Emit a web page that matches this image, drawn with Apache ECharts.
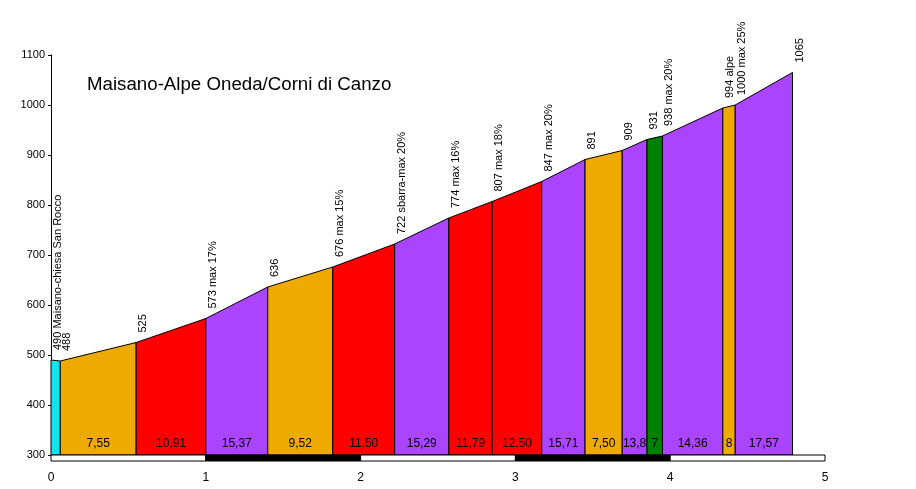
<!DOCTYPE html>
<html>
<head>
<meta charset="utf-8">
<script src="https://cdn.jsdelivr.net/npm/echarts@6/dist/echarts.min.js"></script>
<style>
  html, body { margin: 0; padding: 0; background: #fff; }
  #chart { width: 916px; height: 489px; }
</style>
</head>
<body>
<div id="chart"></div>
<script>
// profile points: distance (km) and altitude (m)
const km = [0, 0.06, 0.55, 1.0, 1.40, 1.82, 2.22, 2.57, 2.85, 3.17, 3.45, 3.69, 3.85, 3.95, 4.34, 4.42, 4.79];
const quota = [490, 488, 525, 573, 636, 676, 722, 774, 807, 847, 891, 909, 931, 938, 994, 1000, 1065];
const pointLabels = [
  '490 Maisano-chiesa San Rocco', '488', '525', '573 max 17%', '636', '676 max 15%',
  '722 sbarra-max 20%', '774 max 16%', '807 max 18%', '847 max 20%', '891', '909',
  '931', '938 max 20%', '994 alpe', '1000 max 25%', '1065'
];
// gradient (%) of each segment between two points
const pendenze = ['', '7,55', '10,91', '15,37', '9,52', '11,50', '15,29', '11,79', '12,50',
  '15,71', '7,50', '13,8', '7', '14,36', '8', '17,57'];
const kmTicks = [0, 1, 2, 3, 4, 5];

// colours per segment
const CYAN = '#12e4ef', ORANGE = '#eeaa00', RED = '#ff0000', PURPLE = '#aa44ff', GREEN = '#008000';
const segColors = [CYAN, ORANGE, RED, PURPLE, ORANGE, RED, PURPLE, RED, RED,
  PURPLE, ORANGE, PURPLE, GREEN, PURPLE, ORANGE, PURPLE];

const FONT = 'Liberation Sans, Arial, sans-serif';

const segData = [];
for (let i = 0; i < km.length - 1; i++) {
  segData.push([km[i], km[i + 1], quota[i], quota[i + 1], i]);
}
const pointData = km.map((k, i) => [k, quota[i], i]);
const barData = [];
for (let i = 0; i < kmTicks.length - 1; i++) {
  barData.push([kmTicks[i], kmTicks[i + 1], i]);
}

const chart = echarts.init(document.getElementById('chart'));

const option = {
  animation: false,
  backgroundColor: '#fff',
  title: {
    text: 'Maisano-Alpe Oneda/Corni di Canzo',
    left: 87,
    top: 75,
    padding: 0,
    textStyle: { fontFamily: FONT, fontSize: 18.7, fontWeight: 'normal', color: '#000' }
  },
  grid: { left: 51, right: 91, top: 55, bottom: 34 },
  xAxis: {
    type: 'value',
    min: 0,
    max: 5,
    interval: 1,
    axisLine: { show: false },
    axisTick: { show: false },
    splitLine: { show: false },
    axisLabel: { margin: 17, color: '#000', fontFamily: FONT, fontSize: 12 }
  },
  yAxis: {
    type: 'value',
    min: 300,
    max: 1100,
    interval: 100,
    axisLine: { show: true, lineStyle: { color: '#000', width: 1 } },
    axisTick: { show: true, length: 3, lineStyle: { color: '#000' } },
    splitLine: { show: false },
    axisLabel: {
      margin: 6, color: '#000', fontFamily: FONT, fontSize: 11,
      formatter: v => String(v)
    }
  },
  series: [
    {
      // coloured segments with gradient labels
      type: 'custom',
      clip: false,
      data: segData,
      renderItem: function (params, api) {
        const i = api.value(4);
        const b0 = api.coord([api.value(0), 300]);
        const t0 = api.coord([api.value(0), api.value(2)]);
        const t1 = api.coord([api.value(1), api.value(3)]);
        const b1 = api.coord([api.value(1), 300]);
        return {
          type: 'group',
          children: [
            {
              type: 'polygon',
              shape: { points: [b0, t0, t1, b1] },
              style: { fill: segColors[i], stroke: '#000', lineWidth: 1 }
            },
            {
              type: 'text',
              x: (b0[0] + b1[0]) / 2,
              y: b0[1] - 11,
              style: {
                text: pendenze[i], align: 'center', verticalAlign: 'middle',
                fill: '#000', font: '12px ' + FONT
              }
            }
          ]
        };
      }
    },
    {
      // rotated altitude labels
      type: 'custom',
      clip: false,
      data: pointData,
      renderItem: function (params, api) {
        const p = api.coord([api.value(0), api.value(1)]);
        return {
          type: 'text',
          x: p[0] + 7,
          y: p[1] - 10,
          rotation: Math.PI / 2,
          style: {
            text: pointLabels[api.value(2)], x: 0, y: 0,
            align: 'left', verticalAlign: 'middle',
            fill: '#000', font: '11px ' + FONT
          }
        };
      }
    },
    {
      // km scale bar under the profile
      type: 'custom',
      clip: false,
      data: barData,
      renderItem: function (params, api) {
        const a = api.coord([api.value(0), 300]);
        const b = api.coord([api.value(1), 300]);
        return {
          type: 'rect',
          shape: { x: a[0], y: a[1], width: b[0] - a[0], height: 6 },
          style: { fill: api.value(2) % 2 ? '#000' : '#fff', stroke: '#000', lineWidth: 1 }
        };
      }
    }
  ]
};

chart.setOption(option);
</script>
</body>
</html>
